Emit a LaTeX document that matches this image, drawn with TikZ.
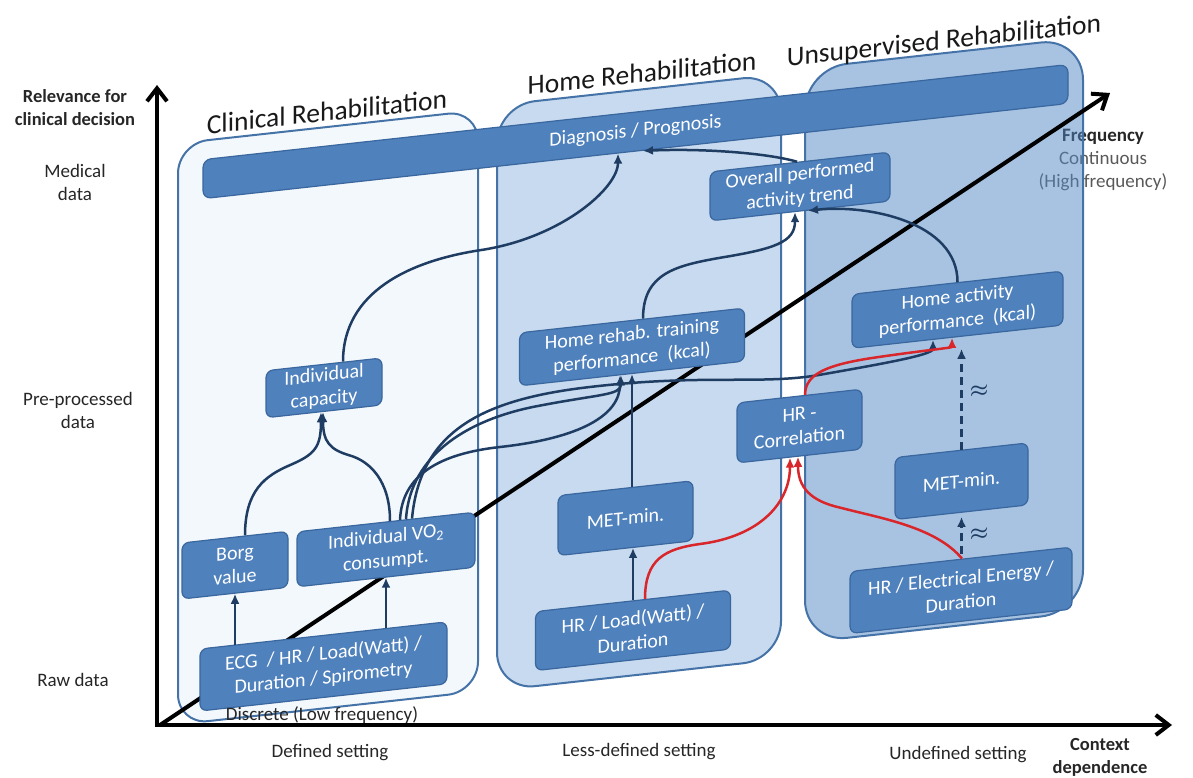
\documentclass[tikz,border=0pt]{standalone}
\usepackage{fontspec}
\setmainfont{Carlito}
\usetikzlibrary{arrows.meta,calc}
\definecolor{boxblue}{HTML}{4F81BD}
\definecolor{boxline}{HTML}{3A679E}
\definecolor{frameblue}{HTML}{4573A8}
\definecolor{clinfill}{HTML}{F3F8FC}
\definecolor{homefill}{HTML}{C7DAEF}
\definecolor{unsfill}{HTML}{5187C5}
\definecolor{navy}{HTML}{1F3D63}
\definecolor{redarrow}{HTML}{D9262A}
\tikzset{
  skew/.style={yslant=0.11,transform shape},
  group/.style={draw=frameblue,line width=2pt},
  box/.style={draw=boxline,line width=1.2pt,fill=boxblue,rounded corners=7pt,text=white,
    font=\fontsize{20}{24}\selectfont,align=center,inner sep=2pt},
  title/.style={anchor=base,font=\fontsize{27.5}{30}\selectfont,text=black!90},
  axislabel/.style={font=\fontsize{19}{23}\selectfont,align=center,text=black!85},
  axis/.style={line width=4pt,-{Straight Barb[length=13pt,width=20pt]}},
  flow/.style={draw=navy,line width=2.5pt,-{Latex[length=10pt,width=9pt]}},
  redflow/.style={flow,draw=redarrow},
  approx/.style={flow,dash pattern=on 8pt off 5pt},
  approxlabel/.style={font=\fontsize{20}{24}\selectfont\boldmath,text=navy,inner sep=1pt}
}
\begin{document}
\begin{tikzpicture}[x=1pt,y=-1pt]
        \useasboundingbox (0,0) rectangle (1193,778);
        \node[axislabel] (freq) at (1103,160) {\textbf{Frequency}\\\textcolor{black!65}{Continuous}\\\textcolor{black!65}{(High frequency)}};
        \begin{scope}[skew]
        \draw[group,fill=clinfill,rounded corners=30pt] (178,163) rectangle (478,744);
        \draw[group,fill=homefill,rounded corners=38pt] (497,160) rectangle (781,745);
        \draw[group,fill=unsfill,fill opacity=0.5,rounded corners=42pt] (805,157) rectangle (1083,731);
        \end{scope}
        \coordinate (o) at (157,725);
        \coordinate (ytip) at (157,85);
        \coordinate (xtip) at (1172,725);
        \coordinate (ftip) at (1110,93);
        \draw[axis] ($(o)+(0,2)$) -- (ytip);
        \draw[axis] ($(o)+(-2,0)$) -- (xtip);
        \draw[axis] ($(o)+(3,0)$) -- (ftip);
        \begin{scope}[skew]
        \node[title] (tclin) at (327,157) {Clinical Rehabilitation};
        \node[title] (thome) at (642,153) {Home Rehabilitation};
        \node[title] (tuns) at (944,153) {Unsupervised Rehabilitation};
        \node[box,minimum width=865pt,minimum height=39pt,rounded corners=8pt] (diag) at (635.5,201.5) {Diagnosis / Prognosis};
        \node[box,minimum width=106pt,minimum height=56pt] (borg) at (235,591) {Borg\\value};
        \node[box,minimum width=178pt,minimum height=55pt] (vo2) at (386,592) {Individual VO\textsubscript{2}\\consumpt.};
        \node[box,minimum width=247pt,minimum height=62pt] (ecg) at (323.5,702) {ECG~~/ HR / Load(Watt) /\\Duration / Spirometry};
        \node[box,minimum width=116pt,minimum height=47pt] (cap) at (324,423.5) {Individual\\capacity};
        \node[box,minimum width=225pt,minimum height=53pt] (rehab) at (632,416.5) {Home rehab. training\\performance~~(kcal)};
        \node[box,minimum width=135pt,minimum height=60pt] (methome) at (625.5,587) {MET-min.};
        \node[box,minimum width=195pt,minimum height=59pt] (hrload) at (633,700) {HR / Load(Watt) /\\Duration};
        \node[box,minimum width=125pt,minimum height=60pt] (hrcorr) at (799.5,514) {HR -\\Correlation};
        \node[box,minimum width=211pt,minimum height=54pt] (homeact) at (957.5,415) {Home activity\\performance~~(kcal)};
        \node[box,minimum width=180pt,minimum height=49pt] (overall) at (800,274.5) {Overall performed\\activity trend};
        \node[box,minimum width=133pt,minimum height=62pt] (metuns) at (961.5,587) {MET-min.};
        \node[box,minimum width=222pt,minimum height=62pt] (hrelec) at (961,696) {HR / Electrical Energy /\\Duration};
        \draw[flow] (ecg.north -| borg.south) -- (borg.south);
        \draw[flow] (ecg.north -| vo2.south) -- (vo2.south);
        \draw[flow] ($(borg.north)+(10,0)$) .. controls +(0,-45) and +(-25,8) .. (290,497) .. controls +(25,-8) and +(0,35) .. ($(cap.south)+(-3,0)$);
        \draw[flow] ($(vo2.north)+(4,0)$) .. controls +(0,-40) and +(20,8) .. (350,494) .. controls +(-20,-8) and +(0,30) .. ($(cap.south)+(-1,0)$);
        \draw[flow] ($(cap.north)+(19,0)$) .. controls +(0,-70) and +(-70,3) .. (480,303) .. controls +(80,-3) and +(0,35) .. ($(diag.south)+(-17.5,0)$);
        \draw[flow] ($(overall.north)+(-3,0)$) .. controls +(-30,-12) and +(60,4) .. ($(diag.south)+(7.5,0)$);
        \draw[flow] ($(rehab.north)+(11,0)$) .. controls +(0,-45) and +(-45,3) .. (720,337) .. controls +(55,-3) and +(0,30) .. ($(overall.south)+(-5,0)$);
        \draw[flow] (homeact.north) .. controls +(0,-60) and +(60,0) .. ($(overall.south)+(8,0)$);
        \draw[flow] ($(vo2.north)+(14,0)$) .. controls +(2,-45) and +(-60,0) .. (500,502) .. controls +(80,0) and +(0,40) .. ($(rehab.south)+(-12,0)$);
        \draw[flow] ($(vo2.north)+(20,0)$) .. controls +(4,-65) and +(-70,5) .. (540,465) .. controls +(60,-5) and +(0,20) .. ($(rehab.south)+(-11,0)$);
        \draw[flow] ($(vo2.north)+(26,0)$) .. controls +(8,-85) and +(-100,2) .. (580,452) .. controls +(120,-2) and +(-60,4) .. (820,465) .. controls +(60,-4) and +(0,15) .. ($(homeact.south)+(-24.5,0)$);
        \draw[flow] (methome.north -| rehab.south) -- (rehab.south);
        \draw[flow] (hrload.north) -- (hrload.north |- methome.south);
        \draw[redflow] ($(hrload.north)+(12,0)$) .. controls +(0,-40) and +(-35,1) .. (700,621) .. controls +(60,-1) and +(0,45) .. ($(hrcorr.south)+(-9.5,0)$);
        \draw[redflow] ($(hrelec.north)+(1,0)$) .. controls +(-27,-35) and +(40,15) .. (840,600) .. controls +(-30,-10) and +(0,30) .. ($(hrcorr.south)+(-1.5,0)$);
        \draw[redflow] ($(hrcorr.north)+(5.5,0)$) .. controls +(0,-22) and +(-40,2) .. (870,454) .. controls +(50,-2) and +(0,10) .. ($(homeact.south)+(-5.5,0)$);
        \draw[approx,shorten >=12pt] (metuns.north) -- (metuns.north |- homeact.south) node[approxlabel,midway,right=6pt] (ap1) {$\approx$};
        \draw[approx,shorten <=5pt,shorten >=4pt] (hrelec.north -| metuns.south) -- (metuns.south) node[approxlabel,midway,right=6pt] (ap2) {$\approx$};
        \end{scope}
        \node[axislabel,font=\fontsize{18.5}{23}\selectfont\bfseries] (relev) at (75,108) {Relevance for\\clinical decision};
        \node[axislabel] (med) at (75,182) {Medical\\data};
        \node[axislabel] (pre) at (78,410) {Pre-processed\\data};
        \node[axislabel] (raw) at (73,680) {Raw data};
        \node[axislabel] (lowf) at (322,715) {Discrete (Low frequency)};
        \node[axislabel] (set1) at (330,753) {Defined setting};
        \node[axislabel] (set2) at (639,752) {Less-defined setting};
        \node[axislabel] (set3) at (958,755) {Undefined setting};
        \node[axislabel,font=\fontsize{18.5}{23}\selectfont\bfseries] (ctx) at (1100,757) {Context\\dependence};
\end{tikzpicture}
\end{document}
